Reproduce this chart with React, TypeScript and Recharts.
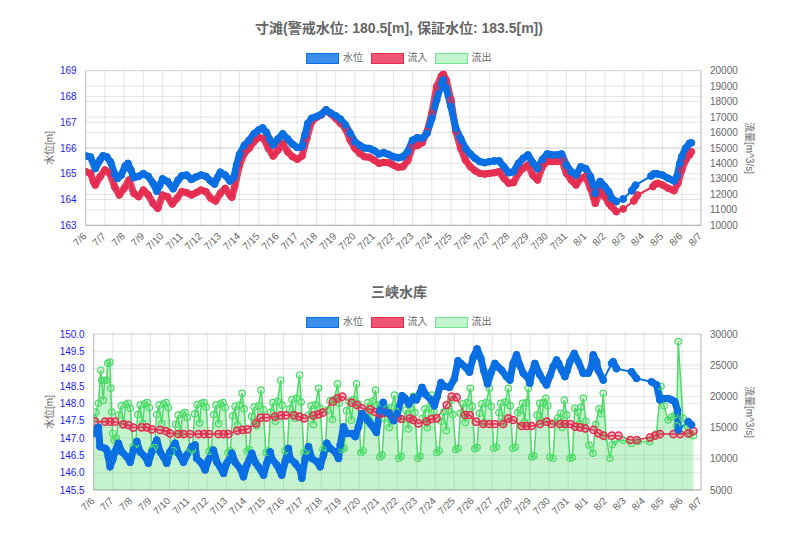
import React from 'react';
import { ComposedChart, Line, Area, XAxis, YAxis, CartesianGrid } from 'recharts';

// x values are days counted from 7/6 00:00
const dateLabels = [
  '7/6', '7/7', '7/8', '7/9', '7/10', '7/11', '7/12', '7/13', '7/14', '7/15', '7/16',
  '7/17', '7/18', '7/19', '7/20', '7/21', '7/22', '7/23', '7/24', '7/25', '7/26', '7/27',
  '7/28', '7/29', '7/30', '7/31', '8/1', '8/2', '8/3', '8/4', '8/5', '8/6', '8/7',
];

// 寸滩 水位 [m]
const cuntanLevel: number[][] = [
  [0, 165.69], [0.25, 165.65], [0.5, 165.2], [0.75, 165.55], [0.9, 165.7], [1.1, 165.65], [1.3, 165.45],
  [1.5, 165.0], [1.65, 164.82], [1.85, 164.95], [2.05, 165.3], [2.2, 165.4], [2.35, 165.15], [2.5, 164.85],
  [2.75, 164.9], [3.0, 165.0], [3.25, 164.9], [3.5, 164.63], [3.7, 164.32], [3.85, 164.55], [4.0, 164.8],
  [4.25, 164.7], [4.55, 164.42], [4.8, 164.75], [5.0, 164.92], [5.25, 164.95], [5.5, 164.78], [5.75, 164.88],
  [6.0, 164.95], [6.25, 164.9], [6.5, 164.72], [6.7, 164.6], [6.85, 164.85], [7.0, 165.06], [7.25, 164.95],
  [7.5, 164.72], [7.7, 164.85], [7.85, 165.35], [8.0, 165.75], [8.25, 166.1], [8.5, 166.3], [8.75, 166.55],
  [9.0, 166.7], [9.2, 166.78], [9.4, 166.6], [9.55, 166.35], [9.75, 166.12], [10.0, 166.35], [10.25, 166.55],
  [10.5, 166.35], [10.75, 166.15], [11.0, 166.02], [11.25, 166.05], [11.4, 166.5], [11.55, 166.95],
  [11.75, 167.15], [12.0, 167.22], [12.25, 167.3], [12.5, 167.48], [12.75, 167.35], [13.0, 167.25],
  [13.25, 167.12], [13.5, 166.9], [13.75, 166.57], [14.0, 166.24], [14.25, 166.1], [14.5, 166.0],
  [14.75, 165.98], [15.0, 165.9], [15.25, 165.77], [15.5, 165.82], [15.75, 165.75], [16.0, 165.66],
  [16.25, 165.62], [16.5, 165.66], [16.75, 165.86], [17.0, 166.3], [17.25, 166.4], [17.5, 166.37],
  [17.75, 166.57], [18.0, 167.15], [18.25, 167.86], [18.5, 168.5], [18.6, 168.64], [18.75, 168.31],
  [19.0, 167.6], [19.25, 166.76], [19.5, 166.37], [19.75, 165.99], [20.0, 165.77], [20.25, 165.6],
  [20.5, 165.47], [20.75, 165.43], [21.0, 165.47], [21.25, 165.5], [21.5, 165.5], [21.75, 165.27],
  [22.0, 165.04], [22.25, 165.08], [22.5, 165.4], [22.75, 165.6], [23.0, 165.73], [23.25, 165.43],
  [23.5, 165.2], [23.75, 165.55], [24.0, 165.77], [24.25, 165.73], [24.5, 165.73], [24.75, 165.77],
  [25.0, 165.34], [25.25, 165.08], [25.5, 164.95], [25.75, 165.27], [26.0, 165.2], [26.25, 164.89],
  [26.4, 164.56], [26.5, 164.24], [26.75, 164.7], [27.0, 164.5], [27.2, 164.3], [27.35, 164.05],
  [27.6, 163.92], [27.95, 164.02], [28.4, 164.34], [28.6, 164.56], [29.4, 164.91], [29.55, 165.0],
  [29.7, 165.0], [30.0, 164.95], [30.3, 164.82], [30.6, 164.72], [30.75, 164.89], [30.9, 165.4],
  [31.0, 165.66], [31.2, 165.99], [31.4, 166.18], [31.5, 166.2],
];

// 寸滩 流入 [m^3/s]
const cuntanInflow: number[][] = [
  [0, 13470], [0.25, 13360], [0.4, 12820], [0.5, 12600], [0.75, 13150], [1.0, 13580], [1.25, 13360],
  [1.5, 12500], [1.75, 11960], [2.0, 12390], [2.25, 12930], [2.5, 12070], [2.75, 11850], [3.0, 12280],
  [3.25, 11960], [3.5, 11420], [3.75, 11100], [4.0, 11960], [4.25, 11850], [4.5, 11380], [4.75, 11750],
  [5.0, 12180], [5.25, 12110], [5.5, 11960], [5.75, 12110], [6.0, 12280], [6.25, 12180], [6.5, 11750],
  [6.75, 11570], [7.0, 12070], [7.25, 12390], [7.5, 11960], [7.6, 11810], [7.75, 12500], [8.0, 13900],
  [8.25, 14650], [8.5, 14980], [8.75, 15410], [9.0, 15690], [9.25, 15620], [9.5, 14980], [9.75, 14480],
  [10.0, 14870], [10.25, 15300], [10.5, 14760], [10.75, 14440], [11.0, 14270], [11.25, 14480],
  [11.5, 15620], [11.75, 16700], [12.0, 16980], [12.25, 17130], [12.5, 17460], [12.75, 17200],
  [13.0, 16920], [13.25, 16600], [13.5, 16270], [13.75, 15520], [14.0, 14980], [14.25, 14650],
  [14.5, 14440], [14.75, 14400], [15.0, 14220], [15.25, 14010], [15.5, 14070], [15.75, 14050],
  [16.0, 13900], [16.25, 13750], [16.5, 13790], [16.75, 14180], [17.0, 15090], [17.25, 15150],
  [17.5, 15340], [17.75, 16060], [18.0, 17240], [18.25, 18970], [18.5, 19660], [18.6, 19780],
  [18.75, 19400], [19.0, 18100], [19.25, 16060], [19.5, 14980], [19.75, 14220], [20.0, 13790],
  [20.25, 13530], [20.5, 13360], [20.75, 13320], [21.0, 13360], [21.25, 13400], [21.5, 13470],
  [21.75, 13040], [22.0, 12720], [22.25, 12760], [22.5, 13360], [22.75, 13690], [23.0, 13900],
  [23.25, 13250], [23.5, 12930], [23.75, 13790], [24.0, 14120], [24.25, 14120], [24.5, 14120],
  [24.75, 14220], [25.0, 13360], [25.25, 12930], [25.5, 12610], [25.75, 13040], [26.0, 13150],
  [26.25, 12390], [26.4, 11850], [26.5, 11420], [26.75, 12180], [27.0, 11850], [27.2, 11420],
  [27.35, 11210], [27.6, 10880], [27.95, 11060], [28.5, 11570], [28.7, 11960], [29.5, 12500],
  [29.6, 12650], [29.75, 12720], [30.0, 12610], [30.3, 12390], [30.6, 12240], [30.8, 12720],
  [31.0, 13580], [31.2, 14220], [31.4, 14550], [31.5, 14760],
];

// 三峡水库 水位 [m]
const sanxiaLevel: number[][] = [
  [0.0, 147.13], [0.07, 147.23], [0.25, 147.31], [0.33, 146.75], [0.6, 146.7], [0.69, 146.65],
  [0.77, 146.46], [0.86, 146.17], [1.0, 146.37], [1.12, 146.6], [1.3, 146.85], [1.48, 146.6],
  [1.74, 146.46], [1.92, 146.3], [2.09, 146.65], [2.27, 146.9], [2.44, 146.6], [2.71, 146.46],
  [2.88, 146.27], [3.06, 146.6], [3.32, 146.94], [3.5, 146.6], [3.67, 146.46], [3.85, 146.27],
  [4.02, 146.6], [4.29, 146.85], [4.46, 146.56], [4.73, 146.3], [4.9, 146.5], [5.17, 146.75],
  [5.34, 146.8], [5.43, 146.41], [5.69, 146.27], [5.87, 146.08], [6.05, 146.37], [6.31, 146.65],
  [6.49, 146.3], [6.66, 146.17], [6.84, 145.98], [7.01, 146.27], [7.28, 146.56], [7.45, 146.3],
  [7.72, 146.12], [7.89, 145.88], [8.07, 146.22], [8.33, 146.56], [8.51, 146.3], [8.68, 146.17],
  [8.95, 145.93], [9.12, 146.27], [9.3, 146.6], [9.38, 146.41], [9.65, 146.22], [9.91, 145.93],
  [10.09, 146.32], [10.26, 146.7], [10.35, 146.41], [10.62, 146.27], [10.88, 146.08], [10.97, 145.84],
  [11.14, 146.41], [11.32, 146.75], [11.49, 146.41], [11.76, 146.32], [11.93, 146.17], [12.11, 146.51],
  [12.28, 146.85], [12.46, 146.7], [12.72, 146.6], [12.9, 146.41], [12.99, 146.8], [13.16, 147.32],
  [13.34, 147.13], [13.6, 147.13], [13.78, 147.04], [13.95, 147.32], [14.13, 147.7], [14.31, 147.6],
  [14.45, 147.5], [14.6, 147.4], [14.9, 147.16], [15.08, 147.79], [15.25, 148.03], [15.43, 147.74],
  [15.6, 147.7], [15.8, 147.5], [16.0, 147.7], [16.25, 148.22], [16.4, 148.15], [16.6, 147.98],
  [16.85, 148.17], [17.0, 148.1], [17.2, 148.3], [17.3, 148.46], [17.5, 148.25], [17.8, 148.08],
  [17.95, 147.93], [18.1, 148.2], [18.3, 148.6], [18.45, 148.5], [18.75, 148.46], [19.0, 148.7],
  [19.2, 149.23], [19.35, 149.15], [19.6, 149.04], [19.8, 148.9], [20.0, 149.33], [20.2, 149.57],
  [20.4, 149.3], [20.55, 148.95], [20.75, 148.56], [20.95, 148.9], [21.14, 149.15], [21.3, 149.05],
  [21.49, 148.96], [21.75, 148.77], [21.93, 148.67], [22.1, 149.15], [22.28, 149.4], [22.45, 149.1],
  [22.63, 148.87], [22.9, 148.72], [22.98, 148.58], [23.1, 148.9], [23.25, 149.15], [23.51, 148.82],
  [23.69, 148.67], [23.86, 148.53], [24.05, 148.8], [24.21, 149.06], [24.39, 149.25], [24.5, 149.15],
  [24.65, 148.96], [24.83, 148.77], [24.95, 148.95], [25.09, 149.2], [25.32, 149.44], [25.53, 149.2],
  [25.79, 148.87], [26.06, 148.87], [26.23, 149.06], [26.32, 149.4], [26.5, 149.2], [26.58, 148.96],
  [26.85, 148.67], [27.29, 149.15], [27.37, 149.2], [27.55, 149.0], [28.34, 148.91], [28.6, 148.72],
  [29.39, 148.62], [29.66, 148.53], [29.83, 148.1], [30.01, 148.14], [30.27, 148.14], [30.45, 148.1],
  [30.62, 148.05], [30.76, 147.8], [30.8, 147.23], [31.33, 147.47], [31.5, 147.38],
];

// 三峡水库 流入 [m^3/s]
const sanxiaInflow: number[][] = [
  [0.07, 15950], [0.6, 15950], [0.86, 15950], [1.12, 15950], [1.56, 15520], [1.83, 15420], [2.09, 15000],
  [2.53, 15040], [2.8, 15040], [3.06, 14720], [3.5, 14620], [3.8, 14450], [4.02, 14080], [4.46, 13970],
  [4.73, 13970], [5.08, 13970], [5.52, 13970], [5.82, 13970], [6.08, 13970], [6.57, 13970], [6.84, 13970],
  [7.1, 13970], [7.57, 14510], [7.84, 14620], [8.1, 14720], [8.56, 15680], [8.8, 16590], [9.09, 16590],
  [9.56, 16750], [9.86, 16970], [10.12, 16970], [10.56, 16970], [10.83, 16750], [11.09, 16480],
  [11.58, 16910], [11.85, 17130], [12.07, 17390], [12.6, 19150], [12.85, 19690], [13.1, 19960],
  [13.6, 19000], [13.87, 18620], [14.13, 18090], [14.57, 17930], [14.83, 17500], [15.1, 17200],
  [15.3, 17400], [15.55, 17300], [16.0, 16600], [16.2, 16380], [16.66, 16500], [16.84, 16220],
  [17.1, 15680], [17.55, 16000], [17.8, 16380], [18.07, 16480], [18.6, 18620], [18.86, 19960],
  [19.12, 19850], [19.56, 17020], [19.82, 17020], [20.14, 15950], [20.53, 15580], [20.84, 15580],
  [21.14, 15580], [21.58, 15580], [21.85, 16480], [22.1, 16220], [22.55, 15260], [22.81, 15260],
  [23.08, 15260], [23.52, 15580], [23.87, 15950], [24.13, 15580], [24.57, 15580], [24.83, 15580],
  [25.1, 15580], [25.37, 15150], [25.63, 15040], [25.9, 14880], [26.34, 14620], [26.6, 14080],
  [26.86, 13710], [27.3, 13710], [27.65, 13710], [28.27, 13010], [28.62, 13010], [29.32, 13440],
  [29.58, 13710], [29.84, 13970], [30.55, 13970], [30.9, 13970], [31.34, 14080], [31.6, 14450],
];

// 三峡水库 流出 [m^3/s]
const sanxiaOutflow: number[][] = [
  [0.0, 16500], [0.12, 17500], [0.25, 18900], [0.37, 24200], [0.42, 22600], [0.5, 19400], [0.58, 22600],
  [0.68, 22600], [0.74, 25300], [0.86, 25500], [0.9, 21300], [0.95, 17500], [1.0, 14100],
  [1.08, 13000], [1.2, 13300], [1.32, 17000], [1.45, 18500], [1.58, 15500], [1.68, 18700], [1.82, 18900], [1.93, 18100],
  [2.08, 12000], [2.2, 12300], [2.32, 17100], [2.45, 18600], [2.58, 15600], [2.68, 18800], [2.82, 19000], [2.93, 18200],
  [3.08, 11500], [3.2, 11800], [3.32, 17100], [3.45, 18600], [3.58, 15600], [3.68, 18800], [3.82, 19000], [3.93, 18200],
  [4.08, 11000], [4.2, 11300], [4.32, 15500], [4.45, 17000], [4.58, 14000], [4.68, 17200], [4.82, 17400], [4.93, 16600],
  [5.08, 11200], [5.2, 11500], [5.32, 17200], [5.45, 18700], [5.58, 15700], [5.68, 18900], [5.82, 19000], [5.93, 18300],
  [6.08, 11200], [6.2, 11500], [6.32, 17100], [6.45, 18600], [6.58, 15600], [6.68, 18800], [6.82, 19000], [6.93, 18200],
  [7.08, 11000], [7.2, 11300], [7.32, 16900], [7.45, 18400], [7.58, 15400], [7.68, 18600], [7.82, 20500], [7.93, 18000],
  [8.08, 11200], [8.2, 11500], [8.32, 16800], [8.45, 18300], [8.58, 15300], [8.68, 18500], [8.82, 21000], [8.93, 17900],
  [9.08, 11000], [9.2, 11300], [9.32, 17500], [9.45, 19000], [9.58, 16000], [9.68, 19200], [9.85, 22600], [9.93, 18600],
  [10.08, 11300], [10.2, 11600], [10.32, 18000], [10.45, 19500], [10.58, 16500], [10.68, 19700], [10.85, 23400], [10.93, 19100],
  [11.08, 11000], [11.2, 11300], [11.32, 17000], [11.45, 18500], [11.58, 15500], [11.68, 18700], [11.85, 21300], [11.93, 18100],
  [12.08, 11500], [12.2, 11800], [12.32, 17800], [12.45, 19300], [12.58, 16300], [12.68, 19500], [12.85, 22000], [12.93, 18900],
  [13.08, 11500], [13.2, 11700], [13.32, 17700], [13.45, 19200], [13.58, 16200], [13.68, 19500], [13.85, 22000], [13.93, 18800],
  [14.08, 11000], [14.2, 11300], [14.32, 17500], [14.45, 19000], [14.58, 16000], [14.68, 19200], [14.85, 21000], [14.93, 18600],
  [15.08, 10300], [15.2, 10600], [15.32, 16500], [15.45, 18000], [15.58, 15000], [15.68, 18200], [15.85, 20200], [15.93, 17600],
  [16.08, 10100], [16.2, 10400], [16.32, 16300], [16.45, 17800], [16.58, 14800], [16.68, 18000], [16.85, 20000], [16.93, 17400],
  [17.08, 10100], [17.2, 10400], [17.32, 16500], [17.45, 18000], [17.58, 15000], [17.68, 18200], [17.82, 20200], [17.93, 17600],
  [18.08, 11000], [18.2, 11300], [18.32, 16000], [18.45, 17500], [18.58, 14500], [18.68, 17700], [18.82, 19400], [18.93, 17100],
  [19.08, 11500], [19.2, 11700], [19.32, 17300], [19.45, 18800], [19.58, 15800], [19.68, 19000], [19.85, 21300], [19.95, 18400],
  [20.08, 11600], [20.2, 11800], [20.32, 17300], [20.45, 18800], [20.58, 15800], [20.68, 19000], [20.85, 21300], [20.95, 18400],
  [21.08, 11700], [21.22, 11900], [21.35, 17400], [21.45, 18900], [21.58, 15900], [21.68, 19100], [21.85, 21300], [21.95, 18500],
  [22.08, 11700], [22.22, 11900], [22.35, 17400], [22.47, 17800], [22.6, 18900], [22.7, 15900], [22.8, 19000], [22.9, 21300],
  [23.08, 10300], [23.2, 10500], [23.35, 17000], [23.5, 18900], [23.6, 16000], [23.7, 19000], [23.82, 19700], [23.93, 18500],
  [24.05, 10300], [24.2, 10100], [24.32, 15800], [24.45, 16500], [24.6, 17300], [24.68, 15000], [24.8, 19400], [24.93, 17000],
  [25.1, 10100], [25.22, 10200], [25.35, 18100], [25.5, 17500], [25.6, 15600], [25.68, 18300], [25.8, 19700], [25.93, 16000],
  [26.1, 12200], [26.3, 10900], [26.45, 15500], [26.62, 18000], [26.75, 17200], [26.85, 20500], [27.0, 13500],
  [27.2, 10100], [27.32, 12300], [27.45, 12800], [27.9, 13000], [28.34, 12500], [28.7, 12800], [29.3, 12750],
  [29.65, 14000], [29.89, 21600], [30.05, 18500], [30.27, 16200], [30.45, 16700], [30.62, 17000], [30.72, 15300],
  [30.8, 28800], [31.05, 16500], [31.27, 15150], [31.45, 14000], [31.6, 13700],
];

const cuntanLevelTicks = [163, 164, 165, 166, 167, 168, 169];
const cuntanFlowTicks = [10000, 11000, 12000, 13000, 14000, 15000, 16000, 17000, 18000, 19000, 20000];
const sanxiaLevelTicks = [145.5, 146, 146.5, 147, 147.5, 148, 148.5, 149, 149.5, 150];
const sanxiaFlowTicks = [5000, 10000, 15000, 20000, 25000, 30000];

const FONT = '"Liberation Sans", Arial, "Noto Sans CJK JP", sans-serif';
const BLUE = '#0a6fe3';
const RED = '#e52b50';
const GREEN = '#4cdb68';
const GRID = 'rgba(0,0,0,0.1)';
const AXIS = 'rgba(0,0,0,0.2)';

const dayTicks = dateLabels.map((_, i) => i);
const toRows = (pts: number[][]) => pts.map(([t, v]) => ({ t, v }));

// hourly readings merge into a thick band; break the band where readings are sparse
const bandRows = (pts: number[][], maxGap: number) => {
  const rows: { t: number; v: number | null }[] = [];
  pts.forEach(([t, v], i) => {
    if (i > 0 && t - pts[i - 1][0] > maxGap) rows.push({ t: (t + pts[i - 1][0]) / 2, v: null });
    rows.push({ t, v });
  });
  return rows;
};

const DateTick = (props: any) => {
  const { x, y, payload } = props;
  const ax = x + 1.5;
  const ay = y + 3.5;
  return (
    <text x={ax} y={ay} transform={`rotate(-45 ${ax} ${ay})`} textAnchor="end" fill="#666" fontSize={10} fontFamily={FONT}>
      {dateLabels[payload.value]}
    </text>
  );
};

const legendItems = [
  { name: '水位', fill: '#3b8ee9', border: BLUE, left: 306 },
  { name: '流入', fill: '#ee5675', border: RED, left: 370.5 },
  { name: '流出', fill: '#c2f5cb', border: '#70e289', left: 434.5 },
];

const Legend = ({ y }: { y: number }) => (
  <>
    {legendItems.map((it) => (
      <div key={it.name} style={{ position: 'absolute', left: it.left, top: y - 6, height: 12, display: 'flex', alignItems: 'center' }}>
        <div style={{ width: 31, height: 9, background: it.fill, border: `1.5px solid ${it.border}` }} />
        <span style={{ marginLeft: 4, fontSize: 10, color: '#666', fontFamily: FONT, lineHeight: '12px' }}>{it.name}</span>
      </div>
    ))}
  </>
);

const Overlay = ({ title, titleY, legendY, midY }: { title: string; titleY: number; legendY: number; midY: number }) => (
  <>
    <div style={{ position: 'absolute', left: 0, width: 798, top: titleY - 9, textAlign: 'center', fontSize: 14, fontWeight: 'bold', color: '#666', fontFamily: FONT, lineHeight: '18px' }}>
      {title}
    </div>
    <Legend y={legendY} />
    <div style={{ position: 'absolute', left: 48, top: midY, transform: 'translate(-50%, -50%) rotate(-90deg)', fontSize: 10, color: '#666', fontFamily: FONT, whiteSpace: 'nowrap' }}>
      水位[m]
    </div>
    <div style={{ position: 'absolute', left: 750, top: midY, transform: 'translate(-50%, -50%) rotate(90deg)', fontSize: 10, color: '#666', fontFamily: FONT, whiteSpace: 'nowrap' }}>
      流量[m^3/s]
    </div>
  </>
);

interface PanelProps {
  top: number;
  height: number;
  marginTop: number;
  xAxisHeight: number;
  leftWidth: number;
  leftDomain: number[];
  leftTicks: number[];
  leftFmt: (v: number) => string;
  rightDomain: number[];
  rightTicks: number[];
  level: number[][];
  inflow: number[][];
  outflow?: number[][];
  sparseInflow?: boolean;
}

const Panel = (p: PanelProps) => (
  <div style={{ position: 'absolute', left: 0, top: p.top, width: 798, height: p.height }}>
    <ComposedChart width={798} height={p.height} margin={{ top: p.marginTop, right: 0, bottom: 0, left: 0 }}>
      <CartesianGrid yAxisId="left" stroke={GRID} fill="none" />
      <CartesianGrid yAxisId="right" vertical={false} stroke={GRID} fill="none" />
      <XAxis
        dataKey="t"
        type="number"
        domain={[0, 32]}
        ticks={dayTicks}
        interval={0}
        allowDataOverflow
        height={p.xAxisHeight}
        tick={<DateTick />}
        tickLine={false}
        axisLine={{ stroke: AXIS }}
      />
      <YAxis
        yAxisId="left"
        orientation="left"
        type="number"
        width={p.leftWidth}
        domain={p.leftDomain}
        ticks={p.leftTicks}
        interval={0}
        allowDataOverflow
        tickFormatter={p.leftFmt}
        tick={{ fill: '#1d1dfa', fontSize: 10, fontFamily: FONT }}
        tickLine={false}
        tickSize={6}
        tickMargin={3}
        axisLine={{ stroke: AXIS }}
      />
      <YAxis
        yAxisId="right"
        orientation="right"
        type="number"
        width={97}
        domain={p.rightDomain}
        ticks={p.rightTicks}
        interval={0}
        allowDataOverflow
        tick={{ fill: '#666', fontSize: 10, fontFamily: FONT }}
        tickLine={false}
        tickSize={6}
        tickMargin={3}
        axisLine={{ stroke: AXIS }}
      />
      {p.outflow && (
        <Area
          yAxisId="right"
          data={toRows(p.outflow)}
          dataKey="v"
          type="linear"
          stroke={GREEN}
          strokeWidth={1.5}
          fill={GREEN}
          fillOpacity={0.33}
          dot={{ r: 3.2, fill: 'rgba(76,219,104,0.45)', stroke: GREEN, strokeWidth: 1.2 }}
          activeDot={false}
          isAnimationActive={false}
        />
      )}
      {!p.sparseInflow && (
        <Line
          yAxisId="right"
          data={bandRows(p.inflow, 0.32)}
          dataKey="v"
          type="linear"
          stroke={RED}
          strokeOpacity={0.9}
          strokeWidth={7}
          strokeLinecap="round"
          strokeLinejoin="round"
          dot={false}
          activeDot={false}
          isAnimationActive={false}
        />
      )}
      <Line
        yAxisId="right"
        data={toRows(p.inflow)}
        dataKey="v"
        type="linear"
        stroke={RED}
        strokeWidth={p.sparseInflow ? 1.5 : 2}
        dot={
          p.sparseInflow
            ? { r: 3.6, fill: 'rgba(229,43,80,0.3)', stroke: RED, strokeWidth: 1.5 }
            : { r: 3.3, fill: 'rgba(229,43,80,0.55)', stroke: RED, strokeWidth: 1 }
        }
        activeDot={false}
        isAnimationActive={false}
      />
      <Line
        yAxisId="left"
        data={bandRows(p.level, 0.32)}
        dataKey="v"
        type="linear"
        stroke={BLUE}
        strokeWidth={7}
        strokeLinecap="round"
        strokeLinejoin="round"
        dot={false}
        activeDot={false}
        isAnimationActive={false}
      />
      <Line
        yAxisId="left"
        data={toRows(p.level)}
        dataKey="v"
        type="linear"
        stroke={BLUE}
        strokeWidth={2}
        dot={{ r: 3.4, fill: BLUE, stroke: BLUE, strokeWidth: 1 }}
        activeDot={false}
        isAnimationActive={false}
      />
    </ComposedChart>
  </div>
);

export default function App() {
  return (
    <div style={{ position: 'absolute', left: 0, top: 0, width: 798, height: 535, background: '#fff', overflow: 'hidden' }}>
      <Panel
        top={0}
        height={267}
        marginTop={70.7}
        xAxisHeight={41.7}
        leftWidth={85.7}
        leftDomain={[163, 169]}
        leftTicks={cuntanLevelTicks}
        leftFmt={(v) => String(v)}
        rightDomain={[10000, 20000]}
        rightTicks={cuntanFlowTicks}
        level={cuntanLevel}
        inflow={cuntanInflow}
      />
      <Overlay title="寸滩(警戒水位: 180.5[m], 保証水位: 183.5[m])" titleY={28} legendY={58} midY={148} />
      <Panel
        top={267}
        height={268}
        marginTop={67}
        xAxisHeight={45}
        leftWidth={93.7}
        leftDomain={[145.5, 150]}
        leftTicks={sanxiaLevelTicks}
        leftFmt={(v) => v.toFixed(1)}
        rightDomain={[5000, 30000]}
        rightTicks={sanxiaFlowTicks}
        level={sanxiaLevel}
        inflow={sanxiaInflow}
        outflow={sanxiaOutflow}
        sparseInflow
      />
      <Overlay title="三峡水库" titleY={291.5} legendY={322} midY={412} />
    </div>
  );
}
